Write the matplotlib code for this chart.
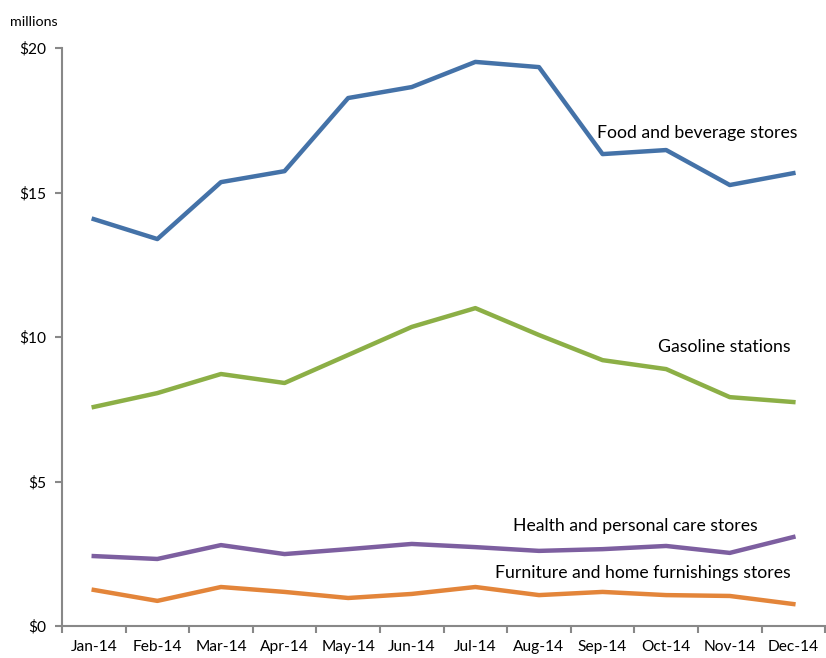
import matplotlib.pyplot as plt
import numpy as np

months = ['Jan-14', 'Feb-14', 'Mar-14', 'Apr-14', 'May-14', 'Jun-14',
          'Jul-14', 'Aug-14', 'Sep-14', 'Oct-14', 'Nov-14', 'Dec-14']
food = [14.08, 13.39, 15.36, 15.74, 18.27, 18.65, 19.52, 19.34, 16.33, 16.47, 15.26, 15.67]
gas = [7.58, 8.06, 8.72, 8.41, 9.38, 10.35, 11.0, 10.07, 9.2, 8.89, 7.92, 7.75]
health = [2.42, 2.32, 2.80, 2.49, 2.66, 2.84, 2.73, 2.60, 2.66, 2.77, 2.53, 3.08]
furniture = [1.25, 0.87, 1.35, 1.18, 0.97, 1.11, 1.35, 1.07, 1.18, 1.07, 1.04, 0.76]

plt.rcParams['font.family'] = ['Lato', 'DejaVu Sans']

fig = plt.figure(figsize=(8.26, 6.58), dpi=100)
ax = fig.add_axes([0.075, 0.0486, 0.924, 0.8784])

x = np.arange(len(months))
lw = 3.2
ax.plot(x, food, color='#4472A8', lw=lw, solid_joinstyle='round')
ax.plot(x, gas, color='#8CAF46', lw=lw, solid_joinstyle='round')
ax.plot(x, health, color='#7D5FA0', lw=lw, solid_joinstyle='round')
ax.plot(x, furniture, color='#E3853A', lw=lw, solid_joinstyle='round')

# series labels placed next to the lines
fs = 12.7
ax.text(9.49, 17.06, 'Food and beverage stores', ha='center', va='center', fontsize=fs)
ax.text(9.92, 9.65, 'Gasoline stations', ha='center', va='center', fontsize=fs)
ax.text(8.52, 3.46, 'Health and personal care stores', ha='center', va='center', fontsize=fs)
ax.text(8.63, 1.83, 'Furniture and home furnishings stores', ha='center', va='center', fontsize=fs)

ax.set_xlim(-0.5, 11.5)
ax.set_ylim(0, 20)
ax.set_yticks([0, 5, 10, 15, 20])
ax.set_yticklabels(['$0', '$5', '$10', '$15', '$20'], fontsize=11.2)
ax.set_xticks(x)
ax.set_xticklabels(months, fontsize=11.2)
ax.set_xticks(np.arange(-0.5, 12, 1), minor=True)
ax.tick_params(axis='x', which='major', length=0, pad=10)
ax.tick_params(axis='x', which='minor', length=5, width=1.5, color='#888888')
ax.tick_params(axis='y', length=5, width=1.5, color='#888888', pad=6)

for s in ['top', 'right']:
    ax.spines[s].set_visible(False)
for s in ['left', 'bottom']:
    ax.spines[s].set_color('#888888')
    ax.spines[s].set_linewidth(1.5)

fig.text(0.012, 0.967, 'millions', fontsize=10.3, ha='left', va='center')

fig.savefig('out.png', dpi=100)
